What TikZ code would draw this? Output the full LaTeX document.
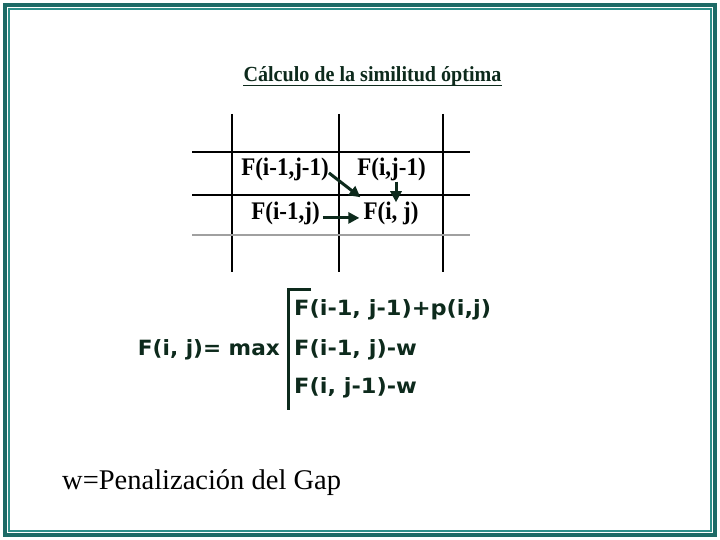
\documentclass[tikz,border=0pt]{standalone}
\usepackage{fontspec}
\usepackage{graphicx}
\setmainfont{Liberation Serif}
\newfontfamily\vfont{DejaVu Sans}
\usetikzlibrary{arrows.meta}
\definecolor{frameout}{HTML}{1D6A66}
\definecolor{framein}{HTML}{2E8F8A}
\definecolor{dkgreen}{HTML}{0D2A1C}
\definecolor{gridgrey}{HTML}{A0A0A0}
\tikzset{
  gridline/.style={line width=1.3pt, black},
  celltext/.style={anchor=base, inner sep=0pt, font=\fontsize{23}{26}\selectfont\bfseries},
  arr/.style={line width=3pt, dkgreen, -{Triangle[length=11pt,width=11pt]}},
  formula/.style={inner sep=0pt, text=dkgreen, font=\vfont\bfseries\fontsize{21}{24}\selectfont},
}
\begin{document}
\begin{tikzpicture}[x=1pt,y=-1pt]
\useasboundingbox (0,0) rectangle (720,540);
\fill[white] (0,0) rectangle (720,540);
% frame
\draw[frameout, line width=3.5pt] (5,5) rectangle (715,535);
\draw[framein, line width=2pt] (8.7,8.7) rectangle (710.5,530.5);
% title
\node[anchor=base, inner sep=0pt, text=dkgreen, font=\fontsize{20.5}{24}\selectfont\bfseries] (title) at (372.5,82) {\scalebox{0.98}[1.05]{Cálculo de la similitud óptima}};
\draw[dkgreen, line width=1.3pt] ([yshift=-3.5pt]title.base west) -- ([yshift=-3.5pt]title.base east);
% grid
\draw[gridline] (232,114) -- (232,272);
\draw[gridline] (339,114) -- (339,272);
\draw[gridline] (443,114) -- (443,272);
\draw[gridline] (192,152) -- (470,152);
\draw[gridline] (192,195) -- (470,195);
\draw[gridgrey, line width=1.8pt] (192,235) -- (470,235);
% cells
\node[celltext] (n1) at (285,176) {\scalebox{1}[1.1]{F(i-1,j-1)}};
\node[celltext] (n2) at (391.5,176) {\scalebox{1}[1.1]{F(i,j-1)}};
\node[celltext] (n3) at (285.5,219) {\scalebox{1}[1.1]{F(i-1,j)}};
\node[celltext] (n4) at (391,219) {\scalebox{1}[1.1]{F(i, j)}};
% arrows
\draw[arr] ([yshift=-3pt]n1.east) -- ([xshift=-3pt,yshift=4pt]n4.north west);
\draw[arr] ([xshift=4.5pt]n2.south) -- ([xshift=5pt,yshift=-1pt]n4.north);
\draw[arr] ([xshift=3pt,yshift=-5pt]n3.east) -- ([xshift=-4pt,yshift=-5pt]n4.west);
% formula
\node[formula, anchor=base east] (lhs) at (280,355) {\scalebox{1.03}[1]{F(i, j)= max}};
\node[formula, anchor=base west] (r1) at (294,315) {\scalebox{1.07}[1]{F(i-1, j-1)+p(i,j)}};
\node[formula, anchor=base west] (r2) at (294,355) {\scalebox{1.07}[1]{F(i-1, j)-w}};
\node[formula, anchor=base west] (r3) at (294,393) {\scalebox{1.07}[1]{F(i, j-1)-w}};
\draw[dkgreen, line width=3pt] (311,289) -- (288,289) -- (288,410);
% bottom text
\node[anchor=base west, inner sep=0pt, font=\fontsize{28.5}{32}\selectfont] (gap) at (62,489) {w=Penalización del Gap};
\end{tikzpicture}
\end{document}
